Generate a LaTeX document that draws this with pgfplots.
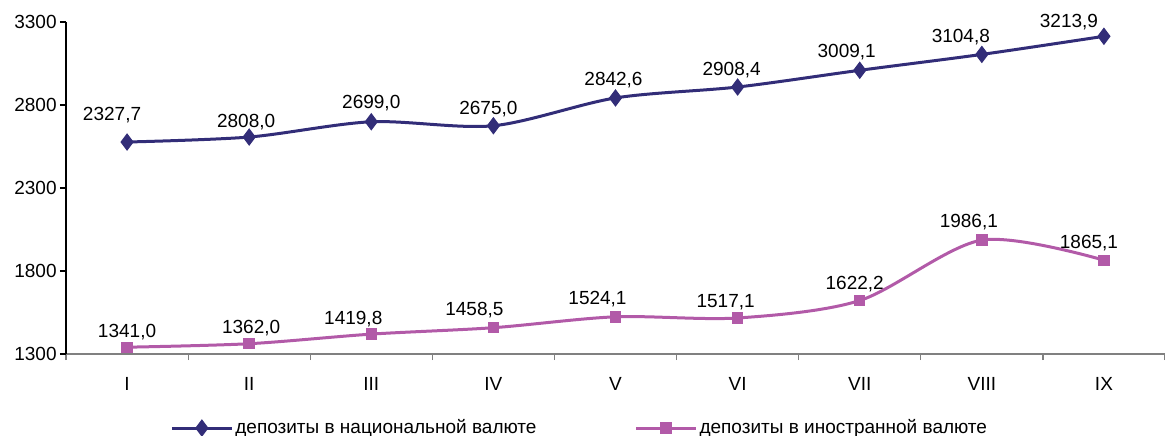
\documentclass[border=0pt]{standalone}
\usepackage{fontspec}
\setmainfont{Liberation Sans}
\usepackage{pgfplots}
\pgfplotsset{compat=1.18}
\usepackage{pgfplotstable}
\definecolor{natcol}{RGB}{50,45,120}
\definecolor{forcol}{RGB}{178,90,168}
\definecolor{axgray}{RGB}{128,128,128}

\pgfplotstableread{
x y label dx dy
0 2577 {2327,7} -7.5 13.5
1 2607 {2808,0} -1.5 7.5
2 2699 {2699,0} 0 9.5
3 2675 {2675,0} -2.5 8.5
4 2842.6 {2842,6} -1 9
5 2908.4 {2908,4} -3 8.5
6 3009.1 {3009,1} -6.5 9
7 3104.8 {3104,8} -10.5 8.5
8 3213.9 {3213,9} -17.5 7
}\natdata

\pgfplotstableread{
x y label dx dy
0 1341.0 {1341,0} 0 7.5
1 1362.0 {1362,0} 1 8
2 1419.8 {1419,8} -9 7.5
3 1458.5 {1458,5} -9.5 9
4 1524.1 {1524,1} -9 9
5 1517.1 {1517,1} -6 8
6 1622.2 {1622,2} -2.5 8
7 1986.1 {1986,1} -6.5 9
8 1865.1 {1865,1} -7.5 8.5
}\fordata

\begin{document}
\fontsize{9.5bp}{11.5bp}\selectfont
\begin{tikzpicture}
\begin{axis}[
  name=ax,
  scale only axis,
  width=549.5bp, height=166bp,
  xmin=-0.5, xmax=8.5,
  ymin=1300, ymax=3300,
  axis x line*=bottom,
  axis y line*=left,
  x axis line style={axgray, line width=0.9bp},
  y axis line style={black, line width=0.6bp},
  xtick={0,...,8},
  xticklabels={I,II,III,IV,V,VI,VII,VIII,IX},
  major x tick style={draw=none},
  minor xtick={-0.5,0.5,...,8.5},
  minor tick length=3bp,
  minor x tick style={axgray, line width=0.6bp},
  tick align=outside,
  ytick={1300,1800,2300,2800,3300},
  major tick length=3bp,
  major y tick style={black, line width=0.6bp},
  xticklabel style={anchor=base, yshift=-15bp},
  yticklabel style={anchor=east, inner sep=0pt, xshift=-1.5bp},
  /pgf/number format/assume math mode=true,
  /pgf/number format/set thousands separator={},
  clip=false,
  every axis plot/.append style={line width=1.5bp},
  legend columns=2,
  legend style={draw=none, fill=none, inner sep=0pt,
    at={(axis description cs:0.0946,-0.223)}, anchor=west,
    /tikz/every even column/.append style={column sep=48bp},
    nodes={inner sep=1bp}},
  legend image code/.code={\draw[mark repeat=2,mark phase=2,#1] plot coordinates {(0bp,0bp) (15bp,0bp) (30bp,0bp)};},
  nodes near coords,
  point meta=explicit symbolic,
  visualization depends on={\thisrow{dx} \as \dx},
  visualization depends on={\thisrow{dy} \as \dy},
  every node near coord/.append style={anchor=center, xshift=\dx*1bp, yshift=\dy*1bp, text=black},
]
\addplot[natcol, smooth, mark=diamond*, mark size=4bp, mark options={solid, line width=0.5bp}]
  table[x=x, y=y, meta=label] {\natdata};
\addlegendentry{депозиты в национальной валюте}
\addplot[forcol, smooth, mark=square*, mark size=2.6bp, mark options={solid, line width=0.5bp}]
  table[x=x, y=y, meta=label] {\fordata};
\addlegendentry{депозиты в иностранной валюте}
\end{axis}
\pgfresetboundingbox
\path ([shift={(-33bp,-40.5bp)}]ax.south west) rectangle ([shift={(0bp,11bp)}]ax.north east);
\end{tikzpicture}
\end{document}
